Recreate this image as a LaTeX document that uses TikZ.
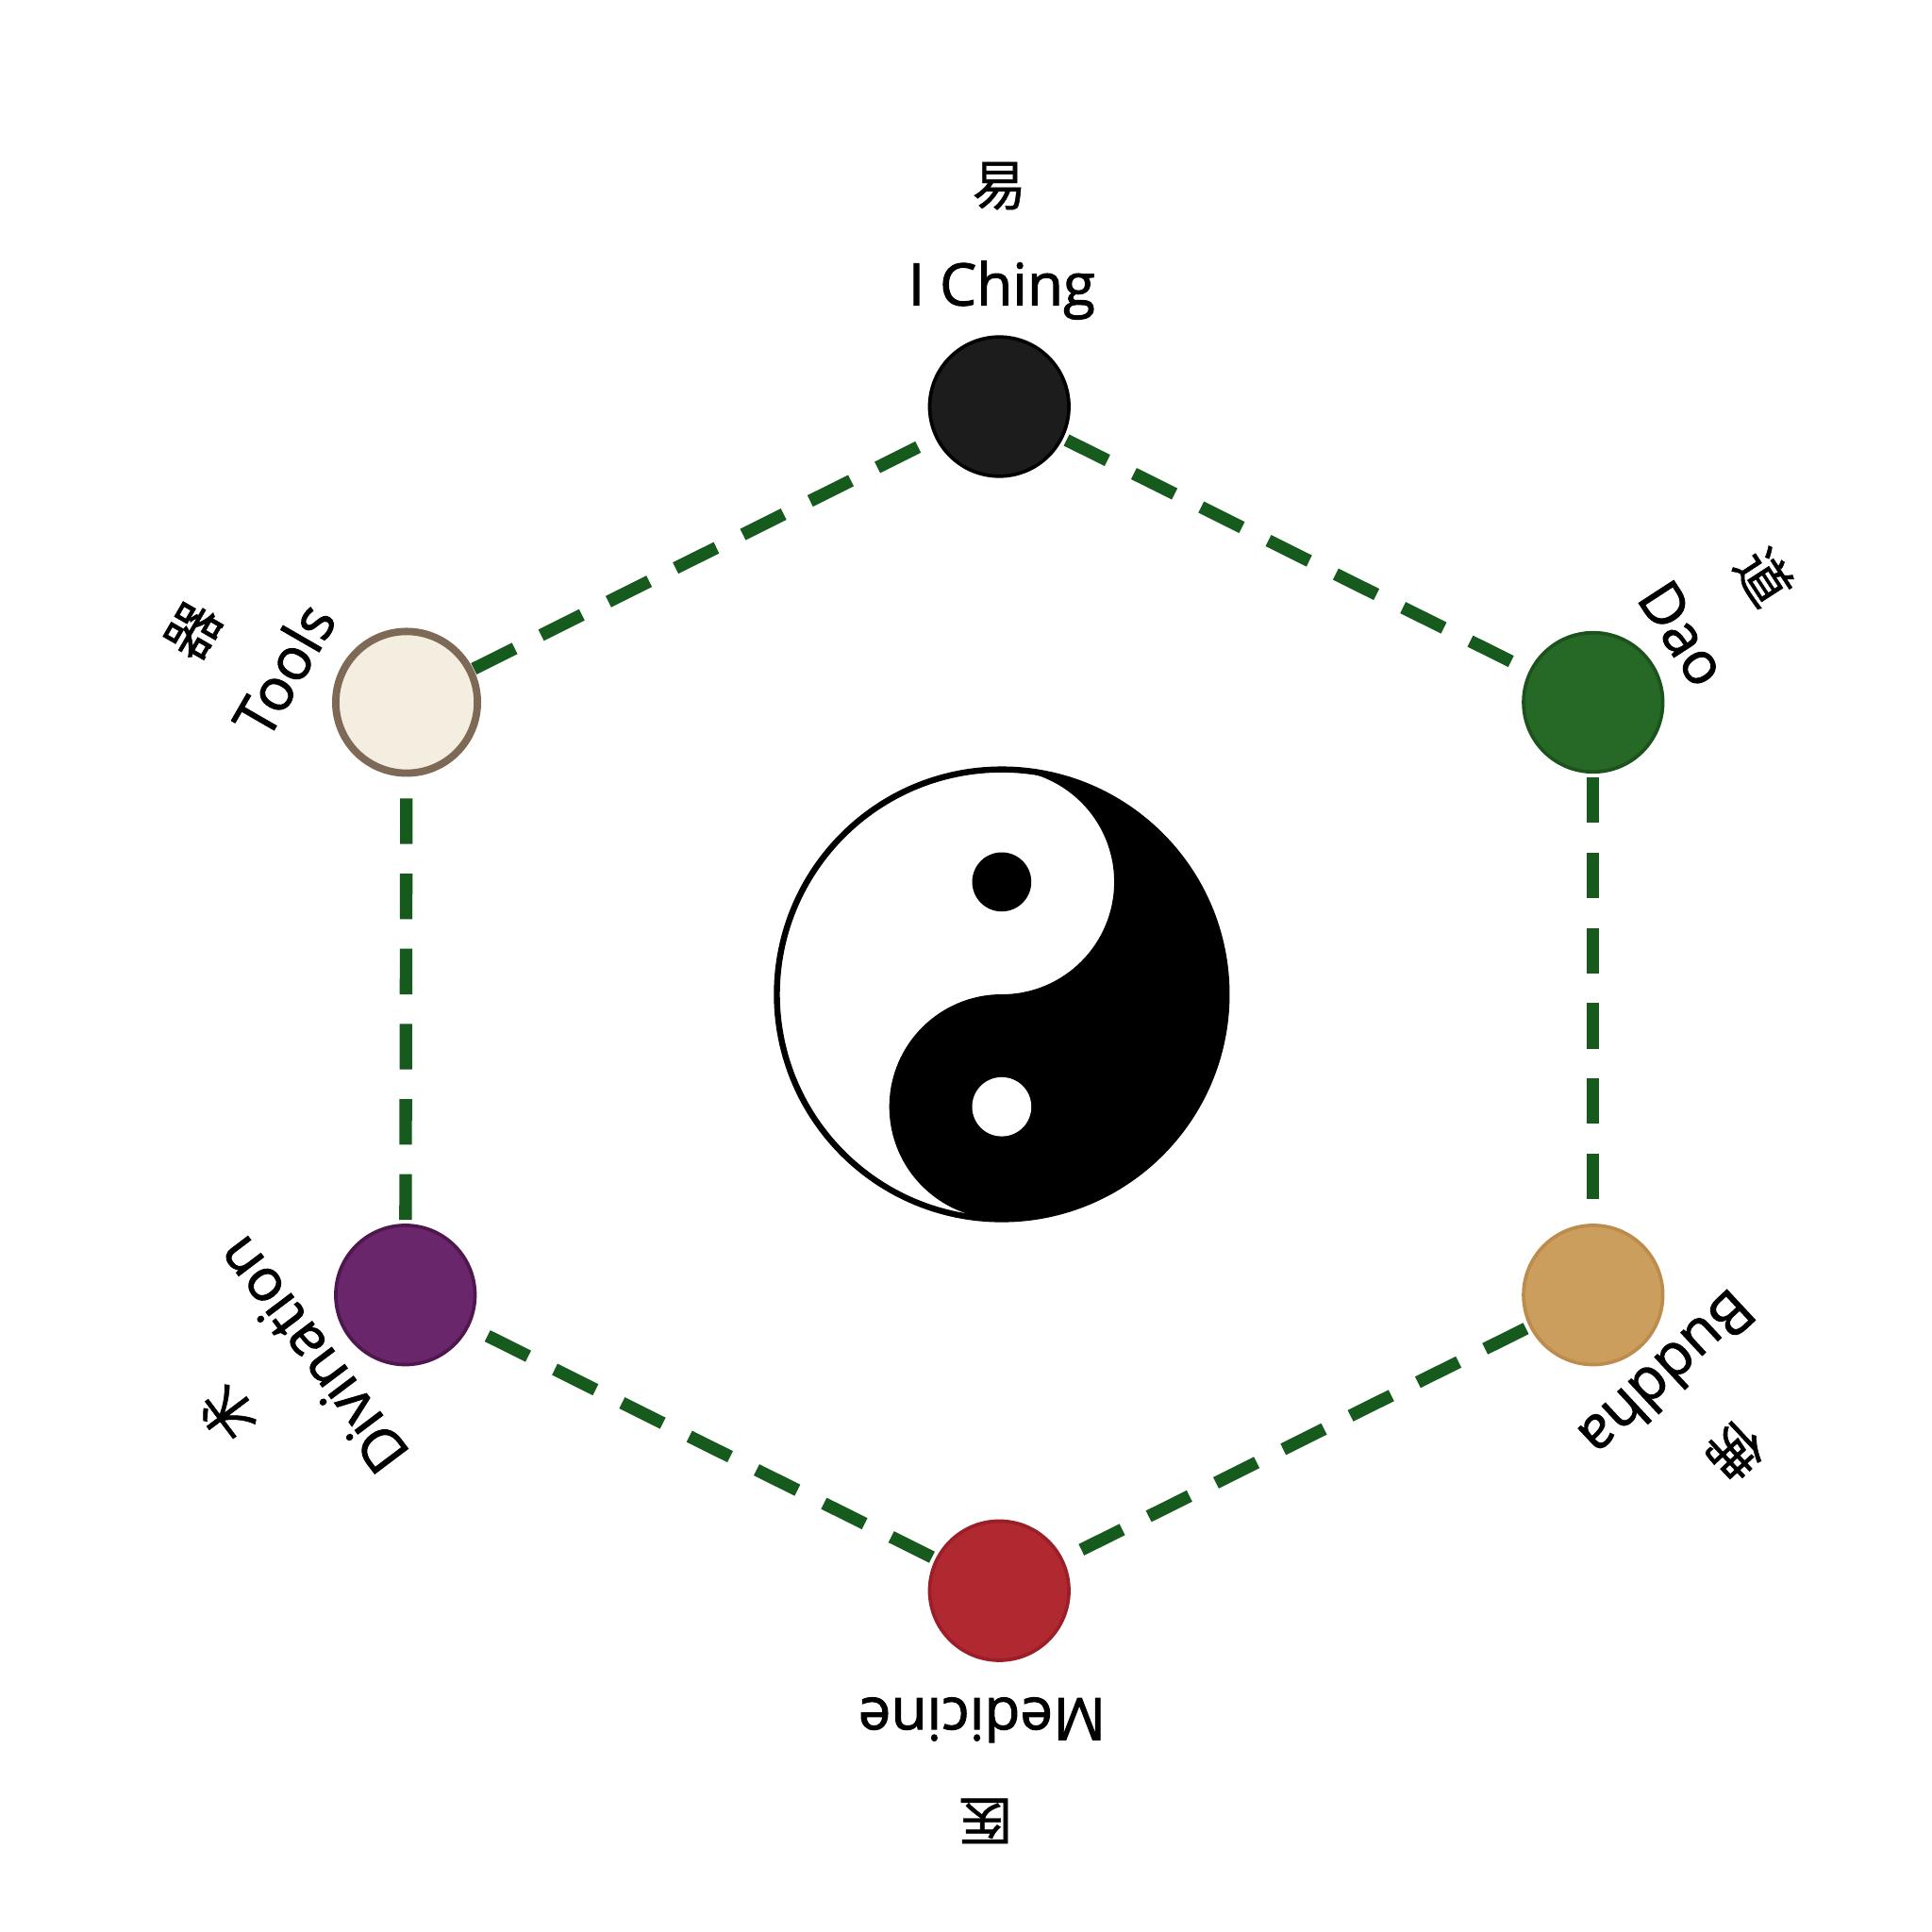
\documentclass[tikz,border=0pt]{standalone}
\usepackage{fontspec}
\setmainfont{Open Sans}
\newfontfamily\lblfont{Open Sans}[FakeBold=1.6]
\newfontfamily\cjk{Noto Sans CJK SC}[FakeBold=0.8]
\usetikzlibrary{backgrounds}

\definecolor{ichingfill}{RGB}{28,28,28}
\definecolor{daofill}{RGB}{38,104,38}
\definecolor{daoline}{RGB}{28,82,28}
\definecolor{buddhafill}{RGB}{204,158,94}
\definecolor{buddhaline}{RGB}{188,140,76}
\definecolor{medfill}{RGB}{176,40,48}
\definecolor{medline}{RGB}{156,30,40}
\definecolor{divfill}{RGB}{106,38,106}
\definecolor{divline}{RGB}{78,24,78}
\definecolor{toolfill}{RGB}{243,238,224}
\definecolor{toolline}{RGB}{125,105,85}
\definecolor{linkgreen}{RGB}{22,90,30}

\begin{document}
\begin{tikzpicture}[
	hub/.style={circle, minimum size=1.13cm, inner sep=0, line width=0.8pt},
	lbltxt/.style={font=\lblfont\fontsize{13.5}{16}\selectfont, text height=9.6pt, text depth=0pt, inner sep=0},
	zi/.style={font=\cjk\fontsize{12.5}{15}\selectfont, inner sep=0},
	link/.style={draw=linkgreen, line width=2.9pt, dash pattern=on 0.37cm off 0.24cm}]
	\useasboundingbox (-8.11,-7.58) rectangle (7.57,8.10);
	% the six circles
	\node[hub, fill=ichingfill, draw=black] (iching) at (0,4.80) {};
	\node[hub, fill=daofill, draw=daoline] (dao) at (4.82,2.40) {};
	\node[hub, fill=buddhafill, draw=buddhaline] (buddha) at (4.82,-2.41) {};
	\node[hub, fill=medfill, draw=medline] (medicine) at (0,-4.81) {};
	\node[hub, fill=divfill, draw=divline] (divination) at (-4.82,-2.41) {};
	\node[hub, fill=toolfill, draw=toolline, line width=1.7pt, minimum size=1.15cm] (tools) at (-4.81,2.40) {};
	% dashed hexagon
	\begin{scope}[on background layer]
		\draw[link] (iching.center) -- (dao.center);
		\draw[link] (dao.center) -- (buddha.center);
		\draw[link] (buddha.center) -- (medicine.center);
		\draw[link] (medicine.center) -- (divination.center);
		\draw[link] (divination.center) -- (tools.center);
		\draw[link] (tools.center) -- (iching.center);
	\end{scope}
	% labels
	\node[lbltxt] (ichingtxt) at (0.02,5.79) {I Ching};
	\node[zi] (ichingzi) at (0,6.59) {易};
	\node[lbltxt, rotate=-57] (daotxt) at (5.55,2.96) {Dao};
	\node[zi, rotate=-57] (daozi) at (6.21,3.42) {道};
	\node[lbltxt, rotate=-137] (buddhatxt) at (5.42,-3.05) {Buddha};
	\node[zi, rotate=-137] (buddhazi) at (5.97,-3.68) {佛};
	\node[lbltxt, rotate=180] (medtxt) at (-0.14,-5.85) {Medicine};
	\node[zi, rotate=180] (medzi) at (-0.11,-6.68) {医};
	\node[lbltxt, rotate=127] (divtxt) at (-5.58,-2.90) {Divination};
	\node[zi, rotate=127] (divzi) at (-6.26,-3.37) {术};
	\node[lbltxt, rotate=60] (tooltxt) at (-5.80,2.66) {Tools};
	\node[zi, rotate=60] (toolzi) at (-6.54,2.98) {器};
	% taiji
	\begin{scope}[shift={(0.02,0.03)}]
		\fill[black] (0,1.825) arc[start angle=90, end angle=-90, radius=1.825]
			arc[start angle=-90, end angle=-270, radius=0.9125]
			arc[start angle=-90, end angle=90, radius=0.9125] -- cycle;
		\draw[line width=1.4pt] (0,0) circle (1.825);
		\fill[black] (0,0.9125) circle (0.24);
		\fill[white] (0,-0.9125) circle (0.24);
	\end{scope}
\end{tikzpicture}
\end{document}
